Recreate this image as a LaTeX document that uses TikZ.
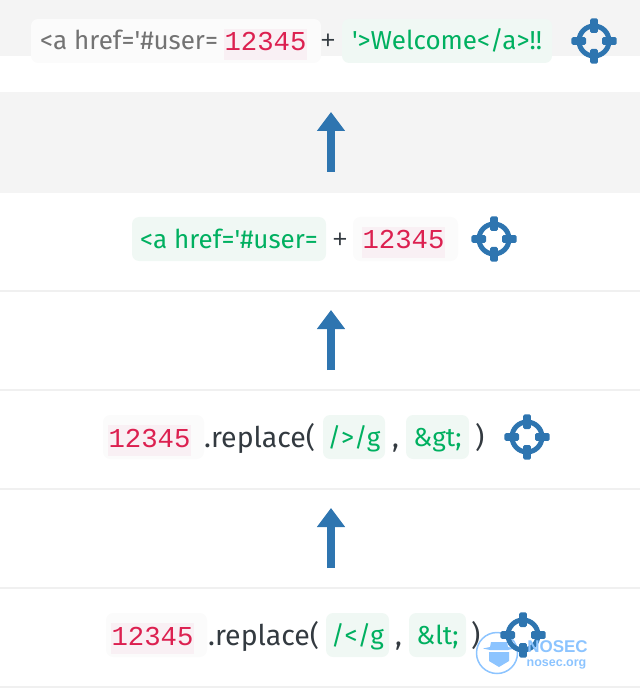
\documentclass[tikz,border=0pt]{standalone}
\usepackage{fontspec}
\setmainfont{Fira Sans}
\setmonofont{Liberation Mono}
\setsansfont{Liberation Sans}
\newfontfamily\plusfont{Open Sans}
\usetikzlibrary{arrows.meta}
\definecolor{bandgray}{HTML}{F4F4F4}
\definecolor{rulegray}{HTML}{F0F0F0}
\definecolor{iconblue}{HTML}{2E75B0}
\definecolor{chipgreen}{HTML}{F0F8F4}
\definecolor{chipwhite}{HTML}{FBFBFB}
\definecolor{codepink}{HTML}{F9F0F4}
\definecolor{codered}{HTML}{DC2050}
\definecolor{textgreen}{HTML}{00B060}
\definecolor{textdark}{HTML}{333A40}
\definecolor{markblue}{HTML}{8CC4FF}
\tikzset{
    label/.style={inner sep=0pt,anchor=base west,text=textdark,font=\fontsize{28.5}{28.5}\selectfont},
    plus/.style={inner sep=0pt,anchor=base west,text=textdark,font=\plusfont\fontsize{26}{26}\selectfont},
    safe/.style={fill=chipgreen,rounded corners=7pt,inner sep=0pt,minimum height=44pt,text=textgreen,text height=24pt,text depth=6pt,font=\fontsize{26}{26}\selectfont},
    plain/.style={fill=chipwhite,rounded corners=7pt,inner sep=0pt,minimum height=44pt,minimum width=101pt},
    code/.style={fill=codepink,inner sep=0pt,minimum width=83pt,minimum height=31pt,text height=22pt,text depth=9pt,text=codered,font=\ttfamily\fontsize{27.3}{27.3}\selectfont},
    uparrow/.style={draw=iconblue,line width=8pt,-{Triangle[length=19pt,width=27pt]}},
    target/.pic={
        \draw[iconblue,line width=5pt] (0,0) circle (15);
        \foreach \a in {0,90,180,270}
            \fill[iconblue,rounded corners=1.5pt,rotate=\a] (8,-3.8) rectangle (22.7,3.8);
    }
}
\begin{document}
\begin{tikzpicture}[x=1pt,y=-1pt]
    \useasboundingbox (0,0) rectangle (640,700);
    %% bands
    \fill[bandgray] (0,0) rectangle (640,56);
    \fill[bandgray] (0,92) rectangle (640,193);
    \foreach \y in {291,390,489,588,687}
        \fill[rulegray] (0,\y-1) rectangle (640,\y+1);
    %% top row
    \node[plain,minimum width=290pt] (sinkchip) at (176,41) {};
    \node[label,text=black!55,font=\fontsize{26}{26}\selectfont] (sinktext) at (40,50) {<a href=\textquotesingle\#user=};
    \node[code] (sinkcode) at (265.5,44.5) {12345};
    \node[plus] (sinkplus) at (320.5,50) {+};
    \node[safe,minimum width=210pt] (welcome) at (447,41) {\textquotesingle>Welcome</a>!!};
    \pic at (594,41) {target};
    %% second row
    \node[safe,minimum width=194pt] (href) at (229,239) {<a href=\textquotesingle\#user=};
    \node[plus] (hrefplus) at (332.5,248) {+};
    \node[plain,minimum width=105pt] (hrefchip) at (405.5,239) {};
    \node[code] (hrefcode) at (403.5,242.5) {12345};
    \pic at (494,239) {target};
    %% third row
    \node[plain] (gtchip) at (153.5,437) {};
    \node[code] (gtcode) at (149.5,440.5) {12345};
    \node[label] (gtcall) at (204,447) {.replace(};
    \node[safe,minimum width=62pt] (gtre) at (354,437) {/>/g};
    \node[label] (gtcomma) at (392,447) {,};
    \node[safe,minimum width=63pt] (gtent) at (437.5,437) {\&gt;};
    \node[label] (gtclose) at (475,447) {)};
    \pic at (527,437) {target};
    %% fourth row
    \node[plain] (ltchip) at (156.5,635) {};
    \node[code] (ltcode) at (152.5,638.5) {12345};
    \node[label] (ltcall) at (208,645) {.replace(};
    \node[safe,minimum width=63pt] (ltre) at (357.5,635) {/</g};
    \node[label] (ltcomma) at (395,645) {,};
    \node[safe,minimum width=57pt] (ltent) at (437.5,635) {\&lt;};
    \node[label] (ltclose) at (471,645) {)};
    %% watermark
    \draw[markblue,line width=1.5pt,fill=white,fill opacity=.35] (497,653) circle (20.5);
    \fill[markblue] (489,652) -- (509,652) -- (509,661) -- (499,667) -- (489,661) -- cycle;
    \fill[markblue] (483,648.5) -- (490,647) -- (491,642) -- (507,642) -- (508,647) -- (515,648.5) -- (508,650) -- (490,650) -- cycle;
    \pic at (523,635) {target};
    \node[inner sep=0pt,text=markblue,font=\sffamily\bfseries\fontsize{17}{17}\selectfont] (marktitle) at (557.5,647) {NOSEC};
    \node[inner sep=0pt,text=markblue,font=\sffamily\bfseries\fontsize{12.5}{12.5}\selectfont] (markurl) at (556.5,664) {nosec.org};
    %% arrows
    \coordinate (rowb) at (331,172);
    \coordinate (rowa) at (331,112);
    \coordinate (rowd) at (331,370);
    \coordinate (rowc) at (331,310);
    \coordinate (rowf) at (331,568);
    \coordinate (rowe) at (331,508);
    \draw[uparrow] (rowb) -- (rowa);
    \draw[uparrow] (rowd) -- (rowc);
    \draw[uparrow] (rowf) -- (rowe);
\end{tikzpicture}
\end{document}
